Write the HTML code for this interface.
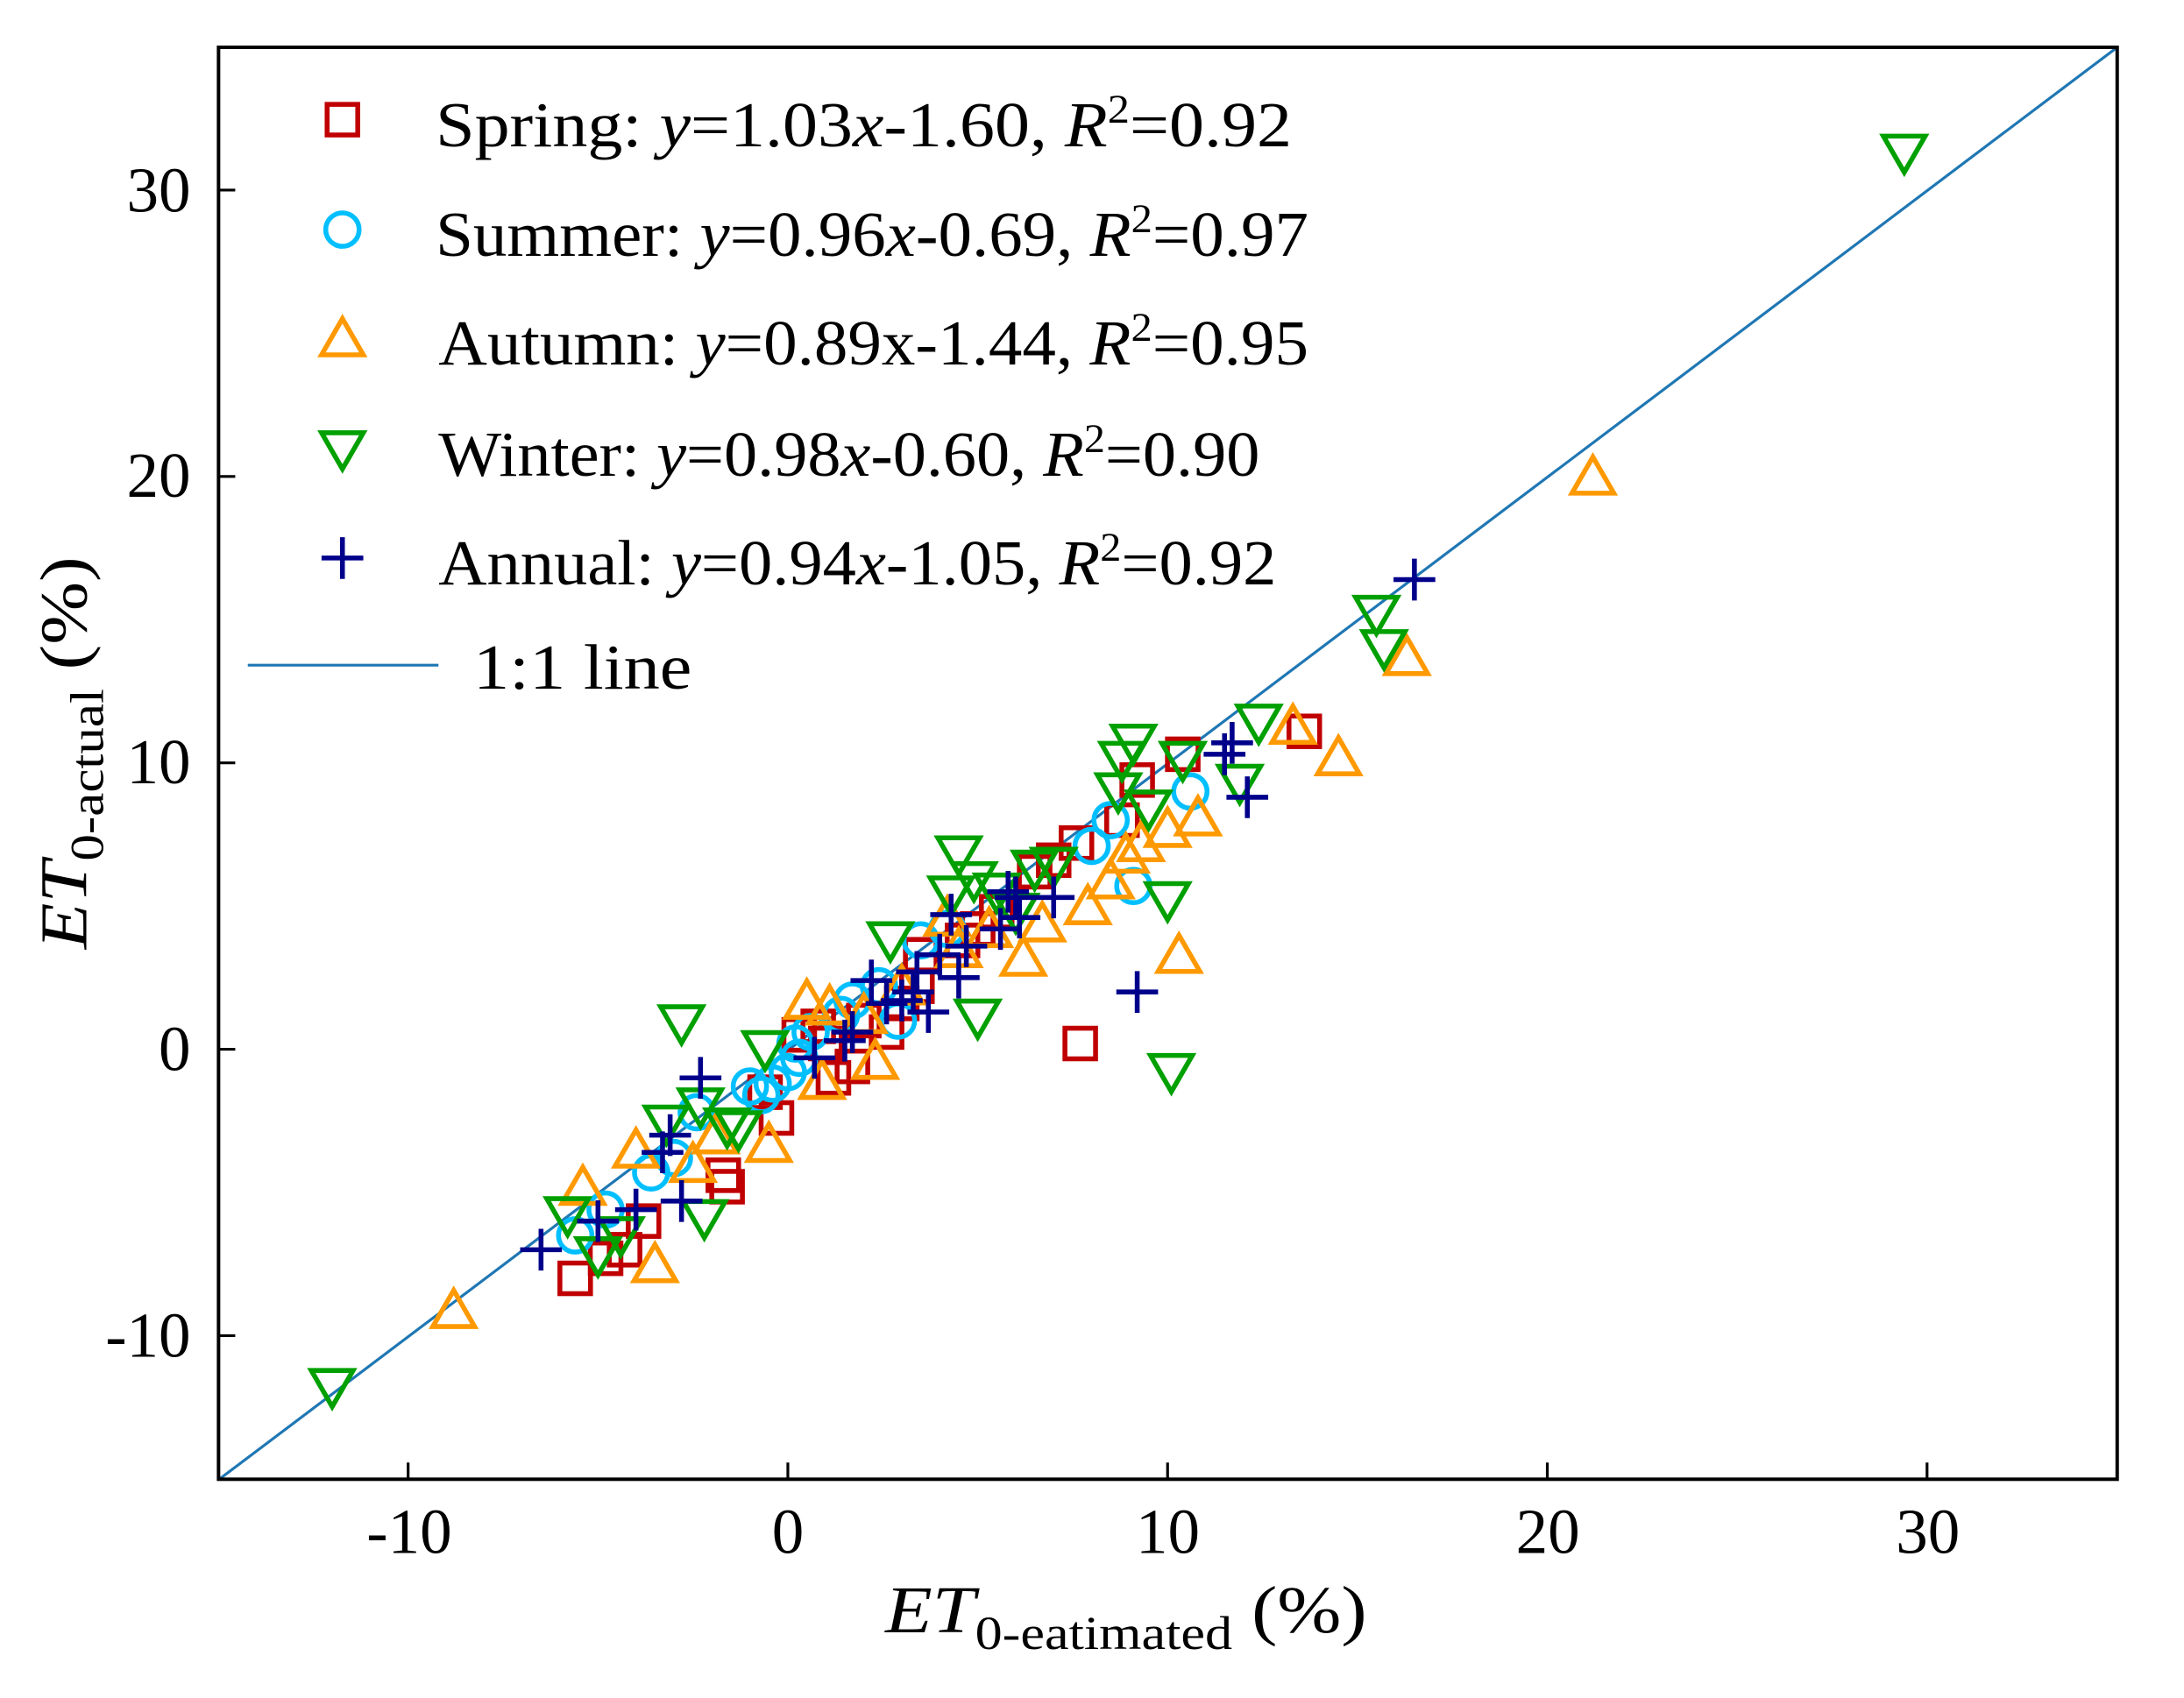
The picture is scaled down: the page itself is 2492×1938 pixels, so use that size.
<!DOCTYPE html>
<html><head><meta charset="utf-8"><style>
html,body{margin:0;padding:0;background:#fff;}
svg{display:block;}
text{font-family:"Liberation Serif",serif;fill:#000;}
</style></head><body>
<svg id="s" width="2492" height="1938" viewBox="0 0 1569 1220.2" preserveAspectRatio="none" xmlns="http://www.w3.org/2000/svg">
<rect x="0" y="0" width="1569" height="1221" fill="#fff"/>
<g id="ticks" stroke="#000" stroke-width="2"></g>
<line x1="157.5" y1="1063" x2="1521" y2="34" stroke="#1f77b4" stroke-width="2"/>
<g id="pts" fill="none" stroke-width="3.5"></g>
<rect x="157" y="34" width="1364" height="1029" fill="none" stroke="#000" stroke-width="2.5"/>
<g font-size="46" text-anchor="middle">
<text x="294" y="1116">-10</text><text x="566" y="1116">0</text><text x="839" y="1116">10</text><text x="1112" y="1116">20</text><text x="1385" y="1116">30</text>
</g>
<g font-size="46" text-anchor="end">
<text x="137" y="152">30</text><text x="137" y="357">20</text><text x="137" y="563">10</text><text x="137" y="769">0</text><text x="137" y="975">-10</text>
</g>
<text x="636" y="1173" font-size="48" textLength="346" lengthAdjust="spacingAndGlyphs"><tspan font-style="italic">ET</tspan><tspan font-size="34" dy="12">0-eatimated</tspan><tspan dy="-12"> (%)</tspan></text>
<text transform="translate(62,682) rotate(-90)" font-size="48" textLength="282" lengthAdjust="spacingAndGlyphs"><tspan font-style="italic">ET</tspan><tspan font-size="34" dy="12">0-actual</tspan><tspan dy="-12"> (%)</tspan></text>
<g font-size="46">
<text x="313" y="105" textLength="615" lengthAdjust="spacingAndGlyphs">Spring: <tspan font-style="italic">y</tspan>=1.03<tspan font-style="italic">x</tspan>-1.60, <tspan font-style="italic">R</tspan><tspan font-size="29" dy="-17">2</tspan><tspan dy="17">=0.92</tspan></text>
<text x="313" y="184" textLength="627" lengthAdjust="spacingAndGlyphs">Summer: <tspan font-style="italic">y</tspan>=0.96<tspan font-style="italic">x</tspan>-0.69, <tspan font-style="italic">R</tspan><tspan font-size="29" dy="-17">2</tspan><tspan dy="17">=0.97</tspan></text>
<text x="315" y="262" textLength="625" lengthAdjust="spacingAndGlyphs">Autumn: <tspan font-style="italic">y</tspan>=0.89x-1.44, <tspan font-style="italic">R</tspan><tspan font-size="29" dy="-17">2</tspan><tspan dy="17">=0.95</tspan></text>
<text x="315" y="342" textLength="590" lengthAdjust="spacingAndGlyphs">Winter: <tspan font-style="italic">y</tspan>=0.98<tspan font-style="italic">x</tspan>-0.60, <tspan font-style="italic">R</tspan><tspan font-size="29" dy="-17">2</tspan><tspan dy="17">=0.90</tspan></text>
<text x="315" y="420" textLength="602" lengthAdjust="spacingAndGlyphs">Annual: <tspan font-style="italic">y</tspan>=0.94<tspan font-style="italic">x</tspan>-1.05, <tspan font-style="italic">R</tspan><tspan font-size="29" dy="-17">2</tspan><tspan dy="17">=0.92</tspan></text>
<text x="340" y="495" textLength="157" lengthAdjust="spacingAndGlyphs">1:1 line</text>
</g>
<line x1="178" y1="478" x2="315" y2="478" stroke="#1f77b4" stroke-width="2"/>
</svg>
<script>
var NS="http://www.w3.org/2000/svg",g=document.getElementById("pts"),tk=document.getElementById("ticks");
function X(v){return 566+v*27.28;}function Y(v){return 754-v*20.58;}
function el(t,a){var e=document.createElementNS(NS,t);for(var k in a)e.setAttribute(k,a[k]);g.appendChild(e);return e;}
function mk(type,px,py){
 if(type==0)el("rect",{x:px-11,y:py-11,width:22,height:22,stroke:"#c00000"});
 else if(type==1)el("circle",{cx:px,cy:py,r:12,stroke:"#00bfff"});
 else if(type==2)el("polygon",{points:(px-15)+","+(py+12)+" "+(px+15)+","+(py+12)+" "+px+","+(py-14),stroke:"#ff9900"});
 else if(type==3)el("polygon",{points:(px-15)+","+(py-12)+" "+(px+15)+","+(py-12)+" "+px+","+(py+14),stroke:"#00a000"});
 else {el("line",{x1:px-15,y1:py,x2:px+15,y2:py,stroke:"#00008b"});el("line",{x1:px,y1:py-15,x2:px,y2:py+15,stroke:"#00008b"});}
}
var D=[
[[-5.6,-8],[-4.8,-7.3],[-4.3,-7],[-3.8,-6],[-1.6,-4.8],[-1.7,-4.4],[-0.3,-2.4],[0.3,0.5],[0.8,0.8],[1.2,-1],[1.7,-0.6],[2.6,0.6],[3,1.6],[3.4,2.2],[3.5,3.3],[4.6,3.8],[5,4.2],[6.5,6.2],[7,6.6],[7.6,7.2],[8.8,8],[9.2,9.4],[10.4,10.3],[13.6,11.1],[7.7,0.2],[5.5,4.8],[2,1],[1,0.2],[-0.6,-1.5]],
[[-5.6,-6.5],[-4.8,-5.6],[-3.6,-4.3],[-3,-3.8],[-2.4,-2.2],[-0.7,-1.6],[-0.4,-1.2],[0,-0.8],[0.3,-0.3],[0.6,0.6],[1.4,1.2],[1.7,1.7],[2.4,2.2],[2.9,1],[3.5,3.8],[4.2,4.2],[8,7.1],[8.5,8],[9.1,5.7],[10.6,9],[0.2,0.2],[-1,-1.3]],
[[-8.8,-9.1],[-5.4,-4.8],[-4,-3.5],[-3.5,-7.5],[-2.5,-4],[-1.9,-3],[-0.5,-3.3],[0.5,1.7],[0.9,-1.1],[1.1,1.5],[2.3,-0.4],[3,2.2],[4.5,3.5],[5.3,4.2],[6.2,3.2],[6.7,4.4],[7.9,5],[8.5,5.9],[8.9,6.8],[9.3,7.2],[10,7.7],[10.8,8.1],[10.3,3.3],[13.3,11.3],[14.5,10.2],[16.3,13.7],[21.2,20],[4.2,4.6],[2,1.2]],
[[-12,-11.8],[-5.8,-5.8],[-5,-7.2],[-4.4,-6.5],[-3.2,-2.6],[-2.8,0.9],[-2.3,-2],[-2.2,-5.9],[-1.6,-2.7],[-1.3,-2.8],[-0.6,0],[2.7,3.8],[4.5,6.8],[4.9,5.9],[5,1.1],[5.5,5.5],[6,4.8],[6.5,6.3],[7,6.4],[8.7,9],[8.8,10.1],[9.1,10.7],[9.5,8.4],[10,5.2],[10.1,-0.8],[10.4,10.1],[11.9,9.3],[12.4,11.4],[15.5,15.2],[15.7,14],[29.4,31.3],[4.3,5.4]],
[[-6.5,-7],[-5,-6],[-4,-5.6],[-3.3,-3.6],[-3.1,-3],[-2.8,-5.3],[-2.3,-1],[0.7,-0.3],[1.5,0.3],[1.7,0.6],[2.2,2.4],[2.6,1.6],[3,1.7],[3.4,2.7],[3.7,1.3],[4,3.3],[4.3,4.7],[4.5,2.5],[4.7,3.6],[5.6,4.2],[6,5.3],[6.1,4.6],[7,5.3],[9.2,2],[11.5,10.3],[11.7,10.7],[12.1,8.8],[16.5,16.4],[3.3,2],[5.8,5.5]]
];
for(var t=0;t<5;t++)D[t].forEach(function(p){mk(t,X(p[0]),Y(p[1]));});
var ly=[86,165,243,323,401];for(var t=0;t<5;t++)mk(t,246,ly[t]);
[-10,0,10,20,30].forEach(function(v){
 var a=document.createElementNS(NS,"line");a.setAttribute("x1",X(v));a.setAttribute("x2",X(v));a.setAttribute("y1",1063);a.setAttribute("y2",1051);tk.appendChild(a);
 var b=document.createElementNS(NS,"line");b.setAttribute("y1",Y(v));b.setAttribute("y2",Y(v));b.setAttribute("x1",157);b.setAttribute("x2",169);tk.appendChild(b);
});
</script>
</body></html>
